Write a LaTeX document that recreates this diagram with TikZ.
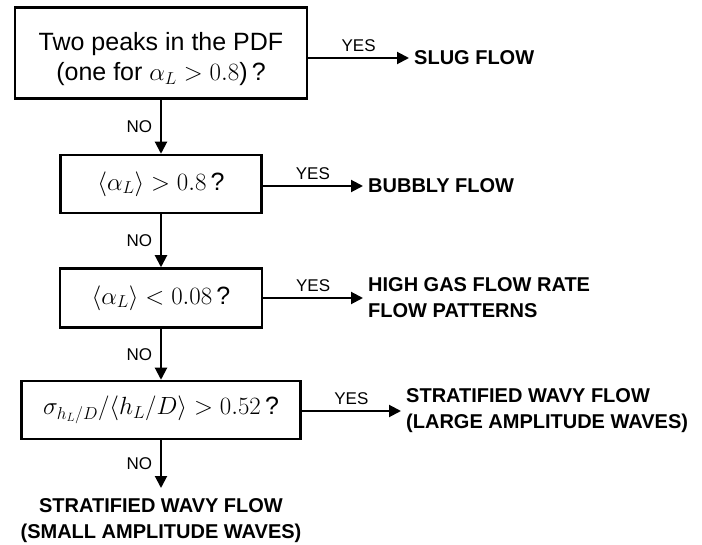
\documentclass[tikz,border=0pt]{standalone}
\usepackage{fontspec}
\setmainfont{Liberation Sans}
\usetikzlibrary{arrows.meta}

\begin{document}
\begin{tikzpicture}[
  x=1pt, y=-1pt,
  % Node styles
  decision/.style={
    draw,
    rectangle,
    line width=2.5pt,
    minimum height=58pt,
    inner sep=0pt,
    align=center,
    font=\fontsize{25}{30}\selectfont,
  },
  outcome/.style={
    inner xsep=5pt,
    inner ysep=4pt,
    align=left,
    font=\fontsize{20}{26}\selectfont\bfseries,
  },
  % Edge styles
  flow/.style={
    line width=2pt,
    -{Triangle[length=12pt,width=12pt]},
  },
  yes label/.style={
    above=4pt,
    inner sep=1pt,
    font=\fontsize{17}{20}\selectfont,
  },
  no label/.style={
    left=7pt,
    inner sep=1pt,
    font=\fontsize{17}{20}\selectfont,
  },
]

  % Canvas (pixel units of the reference)
  \useasboundingbox (0,0) rectangle (702,545);
  \fill[white] (0,0) rectangle (702,545);

  % Decision boxes, one column
  \node[decision, minimum width=292pt, minimum height=91pt] (b1) at (161,53)
    {\rule{0pt}{30pt}Two peaks in the PDF\\(one for $\alpha_L > 0.8$)\,?};
  \node[decision, minimum width=201pt] (b2) at (161,184)
    {$\langle\alpha_L\rangle > 0.8$\,?};
  \node[decision, minimum width=202pt, minimum height=59pt] (b3) at (161,298)
    {$\langle\alpha_L\rangle < 0.08$\,?};
  \node[decision, minimum width=279pt] (b4) at (161,410)
    {$\sigma_{h_L/D}/\langle h_L/D\rangle > 0.52$\,?};

  % Flow patterns
  \node[outcome, anchor=west] (slug) at (409,58) {SLUG FLOW};
  \node[outcome, anchor=west] (bubbly) at (363,186) {BUBBLY FLOW};
  \node[outcome, anchor=west] (highgas) at (363,298)
    {HIGH GAS FLOW RATE\\FLOW PATTERNS};
  \node[outcome, anchor=west] (large) at (401,411)
    {STRATIFIED WAVY FLOW\\(LARGE AMPLITUDE WAVES)};
  \node[outcome, anchor=north, align=center, inner ysep=10pt] (small) at (161,488)
    {STRATIFIED WAVY FLOW\\(SMALL AMPLITUDE WAVES)};

  % NO branches: down the column
  \foreach \src/\dst in {b1/b2, b2/b3, b3/b4, b4/small} {
    \draw[flow] (\src.south) -- (\dst.north) node[midway, no label] {NO};
  }

  % YES branches: to the right
  \foreach \src/\dst in {b1/slug, b2/bubbly, b3/highgas, b4/large} {
    \draw[flow] (\src.east |- \dst.west) -- (\dst.west) node[midway, yes label] {YES};
  }

\end{tikzpicture}
\end{document}
